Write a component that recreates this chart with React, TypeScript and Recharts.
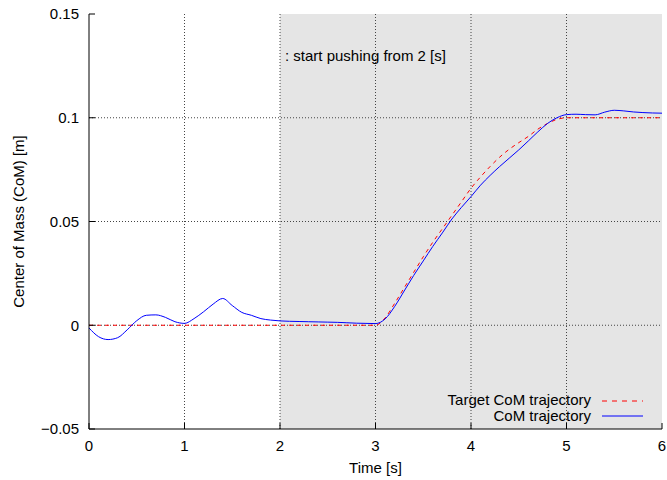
import React from 'react';
import { LineChart, Line, XAxis, YAxis, ReferenceArea, ReferenceLine, Legend } from 'recharts';

const times = [
  0, 0.1, 0.2, 0.3, 0.4, 0.5, 0.6, 0.7, 0.8, 0.9,
  1.0, 1.1, 1.2, 1.3, 1.4, 1.5, 1.6, 1.7, 1.8, 1.9,
  2.0, 2.1, 2.2, 2.3, 2.4, 2.5, 2.6, 2.7, 2.8, 2.9,
  3.0, 3.1, 3.2, 3.3, 3.4, 3.5, 3.6, 3.7, 3.8, 3.9,
  4.0, 4.1, 4.2, 4.3, 4.4, 4.5, 4.6, 4.7, 4.8, 4.9,
  5.0, 5.1, 5.2, 5.3, 5.4, 5.5, 5.6, 5.7, 5.8, 5.9, 6.0,
];

const comTrajectory = [
  -0.0013, -0.0055, -0.0069, -0.006, -0.0022, 0.0022, 0.0048, 0.005, 0.0038, 0.0017,
  0.0009, 0.0032, 0.0065, 0.0102, 0.0129, 0.0095, 0.0062, 0.0048, 0.0032, 0.0025,
  0.0021, 0.0019, 0.0018, 0.0017, 0.0016, 0.0015, 0.0014, 0.0012, 0.001, 0.0009,
  0.0008, 0.003, 0.009, 0.0165, 0.024, 0.031, 0.038, 0.0445, 0.0512, 0.0568,
  0.062, 0.0675, 0.0722, 0.0765, 0.0805, 0.0845, 0.0888, 0.0932, 0.0972, 0.1,
  0.1015, 0.1017, 0.1015, 0.1014, 0.1027, 0.1036, 0.1033, 0.1028, 0.1025, 0.1023, 0.1022,
];

const targetTrajectory = [
  0, 0, 0, 0, 0, 0, 0, 0, 0, 0,
  0, 0, 0, 0, 0, 0, 0, 0, 0, 0,
  0, 0, 0, 0, 0, 0, 0, 0, 0, 0,
  0, 0.0035, 0.0105, 0.018, 0.0255, 0.033, 0.04, 0.0465, 0.053, 0.0595,
  0.066, 0.0715, 0.0765, 0.081, 0.0848, 0.088, 0.091, 0.0945, 0.0972, 0.0992,
  0.1, 0.1, 0.1, 0.1, 0.1, 0.1, 0.1, 0.1, 0.1, 0.1, 0.1,
];

const xTicks = [0, 1, 2, 3, 4, 5, 6];
const yTicks = [-0.05, 0, 0.05, 0.1, 0.15];
const xGrid = [1, 2, 3, 4, 5];
const yGrid = [0, 0.05, 0.1];

const pushStart = 2;
const pushEnd = 6;
const annotation = ': start pushing from 2 [s]';
const xLabel = 'Time [s]';
const yLabel = 'Center of Mass (CoM) [m]';
const legendTarget = 'Target CoM trajectory';
const legendCom = 'CoM trajectory';

const data = times.map((t, i) => ({ t, com: comTrajectory[i], target: targetTrajectory[i] }));

const FONT = '"Liberation Sans", Arial, sans-serif';
const FS = 15;

const fmtY = (v: number) => (v < 0 ? '\u2212' + String(Math.abs(v)) : String(v));

const LegendBox = () => (
  <svg width={237} height={42} style={{ display: 'block' }}>
    <text x={161} y={13} textAnchor="end" fontFamily={FONT} fontSize={FS} fill="#000">{legendTarget}</text>
    <line x1={172} x2={213} y1={9} y2={9} stroke="#ff0000" strokeDasharray="5 5" strokeWidth={1} />
    <text x={161} y={29} textAnchor="end" fontFamily={FONT} fontSize={FS} fill="#000">{legendCom}</text>
    <line x1={172} x2={213} y1={24} y2={24} stroke="#0000ff" strokeWidth={1} />
  </svg>
);

export default function App() {
  return (
    <div style={{ position: 'absolute', left: 0, top: 0, width: 667, height: 480, background: '#fff' }}>
      <LineChart width={667} height={480} data={data} margin={{ top: 14, right: 5, bottom: 0, left: 0 }}>
        <ReferenceArea
          x1={pushStart}
          x2={pushEnd}
          fill="#e5e5e5"
          fillOpacity={1}
          stroke="none"
          ifOverflow="hidden"
          label={(p: any) => (
            <text
              x={p.viewBox.x + 5}
              y={p.viewBox.y + 47}
              fontFamily={FONT}
              fontSize={FS}
              fill="#000"
            >
              {annotation}
            </text>
          )}
        />
        {xGrid.map((g) => (
          <ReferenceLine key={'x' + g} x={g} stroke="#444" strokeDasharray="1 2" strokeWidth={1} />
        ))}
        {yGrid.map((g) => (
          <ReferenceLine key={'y' + g} y={g} stroke="#444" strokeDasharray="1 2" strokeWidth={1} />
        ))}
        <XAxis
          dataKey="t"
          type="number"
          domain={[0, 6]}
          ticks={xTicks}
          interval={0}
          height={51}
          axisLine={{ stroke: '#000' }}
          tickLine={{ stroke: '#000' }}
          tickSize={-6}
          tickMargin={17}
          tick={{ fontFamily: FONT, fontSize: FS, fill: '#000' }}
          label={(p: any) => (
            <text
              x={p.viewBox.x + p.viewBox.width / 2}
              y={p.viewBox.y + 44}
              textAnchor="middle"
              fontFamily={FONT}
              fontSize={FS}
              fill="#000"
            >
              {xLabel}
            </text>
          )}
        />
        <XAxis
          xAxisId="top"
          orientation="top"
          type="number"
          domain={[0, 6]}
          ticks={xTicks}
          interval={0}
          height={0}
          axisLine={{ stroke: '#000' }}
          tickLine={{ stroke: '#000' }}
          tickSize={-6}
          tick={false}
        />
        <YAxis
          type="number"
          domain={[-0.05, 0.15]}
          ticks={yTicks}
          interval={0}
          width={89}
          axisLine={{ stroke: '#000' }}
          tickLine={{ stroke: '#000' }}
          tickSize={-6}
          tickMargin={16}
          tickFormatter={fmtY}
          tick={{ fontFamily: FONT, fontSize: FS, fill: '#000' }}
          label={(p: any) => (
            <text
              x={p.viewBox.x + 24}
              y={p.viewBox.y + p.viewBox.height / 2}
              textAnchor="middle"
              transform={`rotate(-90 ${p.viewBox.x + 24} ${p.viewBox.y + p.viewBox.height / 2})`}
              fontFamily={FONT}
              fontSize={FS}
              fill="#000"
            >
              {yLabel}
            </text>
          )}
        />
        <YAxis
          yAxisId="right"
          orientation="right"
          type="number"
          domain={[-0.05, 0.15]}
          ticks={yTicks}
          interval={0}
          width={0}
          axisLine={{ stroke: '#000' }}
          tickLine={{ stroke: '#000' }}
          tickSize={-6}
          tick={false}
        />
        <Line
          type="monotone"
          dataKey="target"
          stroke="#ff0000"
          strokeWidth={1}
          strokeDasharray="4 4"
          dot={false}
          activeDot={false}
          isAnimationActive={false}
        />
        <Line
          type="monotone"
          dataKey="com"
          stroke="#0000ff"
          strokeWidth={1}
          dot={false}
          activeDot={false}
          isAnimationActive={false}
        />
        <Legend
          layout="vertical"
          align="center"
          verticalAlign="middle"
          wrapperStyle={{ left: 430, top: 392, width: 237, height: 42 }}
          content={() => <LegendBox />}
        />
      </LineChart>
    </div>
  );
}
